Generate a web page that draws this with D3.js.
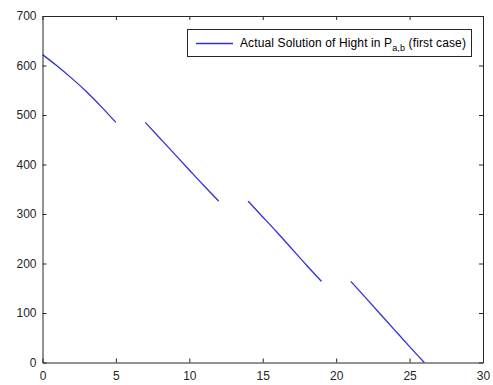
<!DOCTYPE html>
<html>
<head>
<meta charset="utf-8">
<script src="https://cdn.jsdelivr.net/npm/d3@7"></script>
<style>
  body { margin: 0; background: #fff; }
  svg { display: block; font-family: "Liberation Sans", Arial, sans-serif; }
  .axis text { fill: #262626; font-size: 12px; }
  .axis path, .axis line { stroke: #262626; }
</style>
</head>
<body>
<svg id="canvas" width="493" height="385"></svg>
<script>
// four solution pieces, time vs height
const seg1X = [0, 1, 2, 3, 4, 5];
const seg1Y = [622, 599, 574, 547, 517, 485];
const seg2X = [7, 8, 9, 10, 11, 12];
const seg2Y = [485, 453, 421, 389, 357, 326];
const seg3X = [14, 15, 16, 17, 18, 19];
const seg3Y = [326, 294, 262, 229, 196, 164];
const seg4X = [21, 22, 23, 24, 25, 26];
const seg4Y = [164, 131, 98, 65, 32, 0];

const xTicks = [0, 5, 10, 15, 20, 25, 30];
const yTicks = [0, 100, 200, 300, 400, 500, 600, 700];

const legendLabel = "Actual Solution of Hight in P";
const legendSub = "a,b";
const legendTail = " (first case)";

const lineColor = "#3030d8";

const canvas = d3.select("#canvas");

const plotLeft = 42.5, plotRight = 483, plotTop = 16, plotBottom = 362.5;

let xScale = d3.scaleLinear().domain([0, 30]).range([plotLeft, plotRight]);
let yScale = d3.scaleLinear().domain([0, 700]).range([plotBottom, plotTop]);

let segments = [[seg1X, seg1Y], [seg2X, seg2Y], [seg3X, seg3Y], [seg4X, seg4Y]].map(s =>
  s[0].map((x, i) => ({ x: x, y: s[1][i] })));

let line = d3.line().
x(d => xScale(d.x)).
y(d => yScale(d.y)).
curve(d3.curveNatural);

canvas.selectAll("path.seg").
data(segments).
enter().
append("path").
attr("class", "seg").
attr("d", line).
attr("fill", "none").
attr("stroke", lineColor).
attr("stroke-width", 1.3);

// axes, ticks pointing inward like matlab
canvas.append("g").
attr("class", "axis").
attr("transform", `translate(0, ${plotBottom})`).
call(d3.axisBottom(xScale).tickValues(xTicks).tickSizeInner(-4).tickSizeOuter(0).tickPadding(9));

canvas.append("g").
attr("class", "axis").
attr("transform", `translate(${plotLeft}, 0)`).
call(d3.axisLeft(yScale).tickValues(yTicks).tickSizeInner(-4).tickSizeOuter(0).tickPadding(6));

canvas.append("g").
attr("class", "axis").
attr("transform", `translate(0, ${plotTop})`).
call(d3.axisTop(xScale).tickValues(xTicks).tickSizeInner(-4).tickSizeOuter(0).tickFormat(""));

canvas.append("g").
attr("class", "axis").
attr("transform", `translate(${plotRight}, 0)`).
call(d3.axisRight(yScale).tickValues(yTicks).tickSizeInner(-4).tickSizeOuter(0).tickFormat(""));

canvas.selectAll(".axis .domain").attr("stroke-width", 1);

// legend
const legend = canvas.append("g").attr("id", "legend");

legend.append("rect").
attr("x", 187.5).
attr("y", 29.5).
attr("width", 284).
attr("height", 27).
attr("fill", "#fff").
attr("stroke", "#262626").
attr("stroke-width", 1);

legend.append("line").
attr("x1", 196).
attr("x2", 233).
attr("y1", 43.5).
attr("y2", 43.5).
attr("stroke", lineColor).
attr("stroke-width", 1.3);

let legendText = legend.append("text").
attr("x", 240).
attr("y", 47).
attr("font-size", "12px").
attr("letter-spacing", "0.12px").
attr("fill", "#000");

legendText.append("tspan").text(legendLabel);
legendText.append("tspan").attr("dy", 4).attr("font-size", "9px").text(legendSub);
legendText.append("tspan").attr("dy", -4).text(legendTail);
</script>
</body>
</html>
